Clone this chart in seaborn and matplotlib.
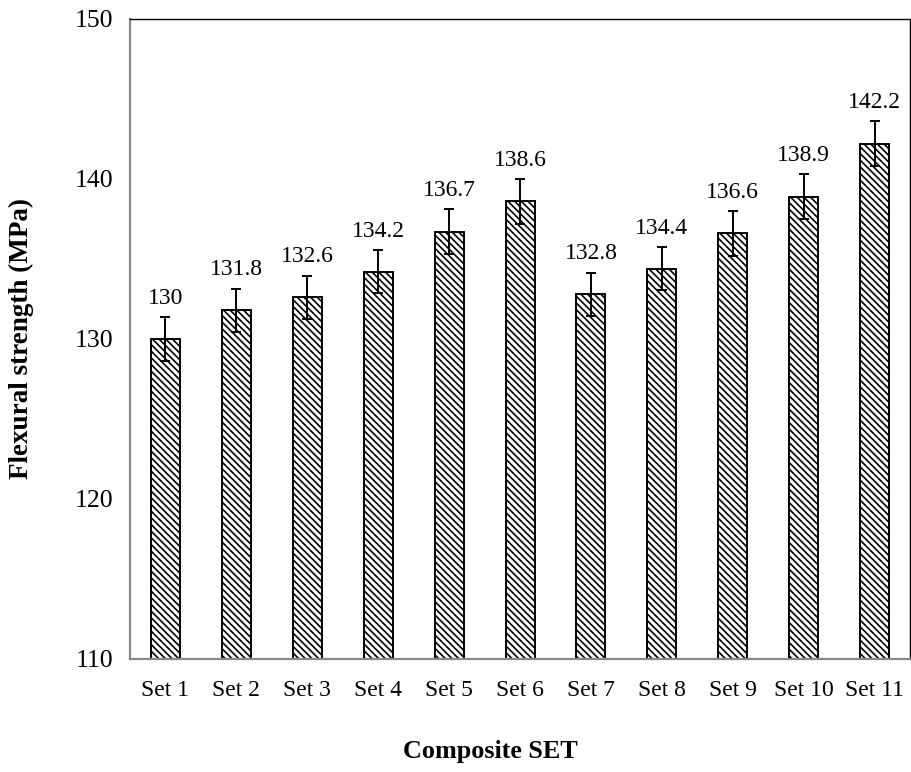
import matplotlib
matplotlib.use("Agg")
import matplotlib.pyplot as plt
import seaborn as sns
import pandas as pd

categories = ["Set 1", "Set 2", "Set 3", "Set 4", "Set 5", "Set 6",
              "Set 7", "Set 8", "Set 9", "Set 10", "Set 11"]
strength = [130, 131.8, 132.6, 134.2, 136.7, 138.6, 132.8, 134.4, 136.6, 138.9, 142.2]
errors = [1.35, 1.35, 1.35, 1.35, 1.4, 1.4, 1.35, 1.35, 1.4, 1.4, 1.4]
yticks = [110, 120, 130, 140, 150]

sns.set_theme(style="white")
plt.rcParams['font.family'] = ['Liberation Serif', 'DejaVu Serif']
plt.rcParams['hatch.linewidth'] = 1.2
plt.rcParams['hatch.color'] = '#333333'
plt.rcParams['text.color'] = 'black'
plt.rcParams['axes.labelcolor'] = 'black'

df = pd.DataFrame({"set": categories, "strength": strength})

fig = plt.figure(figsize=(9.11, 7.72), dpi=100)
ax = fig.add_axes([0.1427, 0.1464, 0.8563, 0.8290])

sns.barplot(data=df, x="set", y="strength", order=categories, color="white",
            edgecolor="black", linewidth=1.4, width=0.41, ax=ax, errorbar=None)
for p in ax.patches:
    p.set_hatch("\\\\\\\\\\")
    p.set_facecolor("white")
    p.set_edgecolor("black")

xs = list(range(len(categories)))
ax.errorbar(xs, strength, yerr=errors, fmt="none", ecolor="black",
            elinewidth=1.4, capsize=3.8, capthick=1.4, zorder=5)

for x, v, e in zip(xs, strength, errors):
    ax.annotate(f"{v:g}", (x, v + e), xytext=(0, 6), textcoords="offset points",
                ha="center", va="bottom", fontsize=17, color="black")

ax.set_ylim(110, 150)
ax.set_xlim(-0.5, len(categories) - 0.5)
ax.set_yticks(yticks)
ax.set_yticklabels([str(t) for t in yticks], fontsize=18.5)
ax.tick_params(axis="y", direction="in", length=7, width=1.2, color="#888888",
               labelcolor="black", pad=12)
ax.tick_params(axis="x", length=0, labelsize=17, pad=15, labelcolor="black")

for side in ["left", "bottom"]:
    ax.spines[side].set_color("#888888")
    ax.spines[side].set_linewidth(1.6)
for side in ["top", "right"]:
    ax.spines[side].set_color("black")
    ax.spines[side].set_linewidth(1.0)

ax.set_ylabel("Flexural strength (MPa)", fontsize=19.5, fontweight="bold", labelpad=29)
ax.set_xlabel("Composite SET", fontsize=18.8, fontweight="bold")
ax.xaxis.set_label_coords(0.4615, -0.145, transform=ax.transAxes)
ax.xaxis.label.set_va("center")

fig.savefig("out.png", dpi=100)
